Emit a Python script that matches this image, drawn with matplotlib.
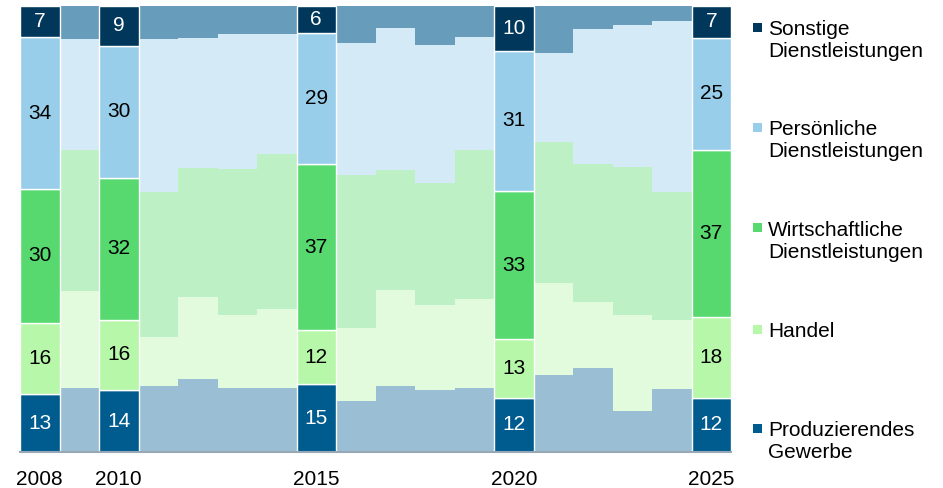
import matplotlib
matplotlib.use('agg')
import matplotlib.pyplot as plt
import numpy as np

plt.rcParams['font.family'] = ['Liberation Sans', 'DejaVu Sans']

years = list(range(2008, 2026))
highlight = [2008, 2010, 2015, 2020, 2025]

# shares in percent, bottom to top
produz = [13, 14.4, 14, 14.7, 16.4, 14.4, 14.4, 15, 11.4, 14.8, 13.9, 14.4, 12, 17.3, 18.8, 9.2, 14.1, 12]
handel = [16, 21.7, 16, 11.1, 18.3, 16.3, 17.7, 12, 16.4, 21.5, 19.1, 19.9, 13, 20.6, 14.8, 21.5, 15.5, 18]
wirt = [30, 31.6, 32, 32.5, 29.0, 32.8, 34.8, 37, 34.4, 26.9, 27.4, 33.4, 33, 31.6, 31.0, 33.2, 28.7, 37]
pers = [34, 24.9, 30, 34.3, 29.1, 30.3, 26.9, 29, 29.6, 31.9, 31.0, 25.4, 31, 20.0, 30.3, 31.9, 38.4, 25]
sonst = [7, 7.4, 9, 7.4, 7.2, 6.3, 6.3, 6, 8.2, 4.9, 8.8, 7.0, 10, 10.5, 5.2, 4.3, 3.4, 7]

series = [produz, handel, wirt, pers, sonst]
names = ['Produzierendes\nGewerbe', 'Handel', 'Wirtschaftliche\nDienstleistungen',
         'Persönliche\nDienstleistungen', 'Sonstige\nDienstleistungen']
colors = ['#005C8F', '#B6F7A9', '#57D96F', '#99CEEB', '#00375A']
faded = ['#9ABED3', '#E2FBDD', '#BEF0C6', '#D5EAF7', '#679CBA']
textcol = ['white', 'black', 'black', 'black', 'white']

data = np.array(series, dtype=float)
shares = data / data.sum(axis=0) * 100

fig = plt.figure(figsize=(9.43, 4.88), dpi=100)
ax = fig.add_axes([20 / 943, 1 - 452 / 488, 711 / 943, 446 / 488])

bottom = np.zeros(len(years))
for i in range(len(series)):
    for j, yr in enumerate(years):
        if yr in highlight:
            ax.bar(yr, shares[i, j], bottom=bottom[j], width=1.0, color=colors[i],
                   edgecolor='white', linewidth=1, zorder=3)
            ax.text(yr, bottom[j] + shares[i, j] / 2, str(int(round(data[i, j]))),
                    ha='center', va='center', fontsize=15, color=textcol[i], zorder=4)
        else:
            ax.bar(yr, shares[i, j], bottom=bottom[j], width=1.0, color=faded[i],
                   linewidth=0, zorder=2)
    bottom += shares[i]

ax.set_xlim(2007.5, 2025.5)
ax.set_ylim(0, 100)
ax.set_xticks(highlight)
ax.set_xticklabels([str(y) for y in highlight], fontsize=15)
ax.tick_params(axis='x', length=0, pad=13)
ax.set_yticks([])
for s in ['left', 'right', 'top']:
    ax.spines[s].set_visible(False)
ax.spines['bottom'].set_color('#97A7B5')
ax.spines['bottom'].set_linewidth(1.5)
ax.spines['bottom'].set_zorder(5)

# legend, top to bottom
leg_y = [27, 127, 228, 329, 428]
for k, i in enumerate(range(len(series) - 1, -1, -1)):
    y = leg_y[k]
    sq = plt.Rectangle((753 / 943, 1 - (y + 4.5) / 488), 9 / 943, 9 / 488,
                       transform=fig.transFigure, color=colors[i], linewidth=0)
    fig.add_artist(sq)
    fig.text(768 / 943, 1 - (y - 7) / 488, names[i], ha='left', va='top',
             fontsize=15, linespacing=1.2)

fig.savefig('out.png', dpi=100)
